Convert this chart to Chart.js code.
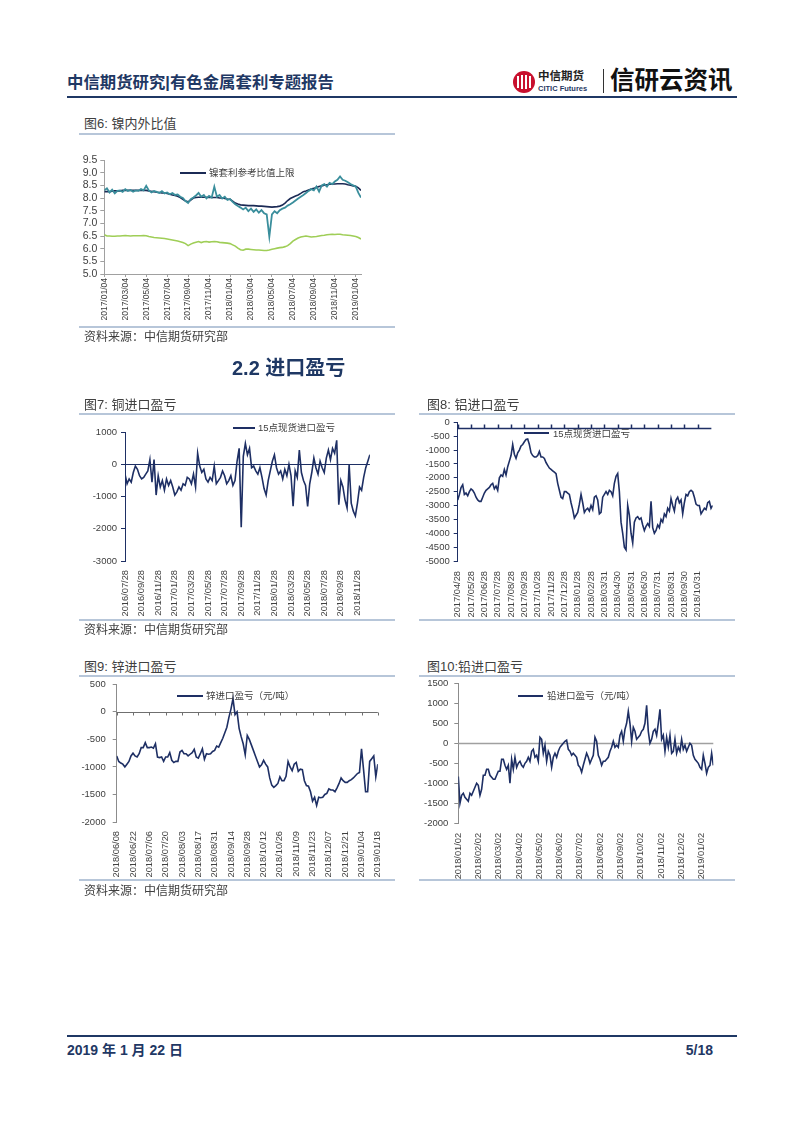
<!DOCTYPE html>
<html><head><meta charset="utf-8">
<script src="https://cdn.jsdelivr.net/npm/chart.js@4.4.1/dist/chart.umd.min.js"></script>
<style>
html,body{margin:0;padding:0;background:#fff;}
#page{position:relative;width:802px;height:1133px;overflow:hidden;font-family:"Liberation Sans","Noto Sans CJK SC",sans-serif;color:#404040;}
.t{position:absolute;white-space:nowrap;line-height:1;}
.ln{position:absolute;height:0;}
canvas{position:absolute;}
</style></head>
<body><div id="page">
<!-- header -->
<div class="t" style="left:67px;top:74px;font-size:16.4px;font-weight:700;color:#1f3864;">中信期货研究|有色金属套利专题报告</div>
<div style="position:absolute;left:513px;top:71px;width:22px;height:22px;border-radius:50%;background:#c8102e;"></div>
<div style="position:absolute;left:517px;top:76px;width:2px;height:12px;background:#fff;"></div>
<div style="position:absolute;left:521px;top:75px;width:2px;height:14px;background:#fff;"></div>
<div style="position:absolute;left:525px;top:75px;width:2px;height:14px;background:#fff;"></div>
<div style="position:absolute;left:529px;top:76px;width:2px;height:12px;background:#fff;"></div>
<div class="t" style="left:538px;top:71px;font-size:11.5px;font-weight:700;color:#222;">中信期货</div>
<div class="t" style="left:538px;top:85px;font-size:7.5px;font-weight:700;color:#1f3864;">CITIC Futures</div>
<div style="position:absolute;left:603px;top:69px;width:1px;height:24px;background:#333;"></div>
<div class="t" style="left:610px;top:69px;font-size:24.5px;font-weight:700;color:#111;">信研云资讯</div>
<div class="ln" style="left:67px;top:96px;width:670px;border-top:2px solid #1f3864;"></div>

<!-- chart 6 -->
<div class="t" style="left:84px;top:117px;font-size:13px;">图6: 镍内外比值</div>
<div class="ln" style="left:79px;top:133px;width:316px;border-top:2px solid #b7c6d9;"></div>
<canvas id="c6" width="311" height="190" style="left:70px;top:140px;width:311px;height:190px"></canvas>
<div class="ln" style="left:180px;top:172px;width:26px;border-top:2px solid #1b2a55;"></div>
<div class="t" style="left:209px;top:168px;font-size:9.5px;">镍套利参考比值上限</div>
<div class="ln" style="left:79px;top:326px;width:316px;border-top:2px solid #b7c6d9;"></div>
<div class="t" style="left:84px;top:331px;font-size:12px;">资料来源：中信期货研究部</div>

<div class="t" style="left:232px;top:358px;font-size:20px;font-weight:700;color:#1f3864;">2.2 进口盈亏</div>

<!-- chart 7 / 8 -->
<div class="t" style="left:84px;top:398px;font-size:13px;">图7: 铜进口盈亏</div>
<div class="ln" style="left:79px;top:413px;width:316px;border-top:2px solid #b7c6d9;"></div>
<div class="t" style="left:427px;top:398px;font-size:13px;">图8: 铝进口盈亏</div>
<div class="ln" style="left:419px;top:413px;width:316px;border-top:2px solid #b7c6d9;"></div>
<canvas id="c7" width="310" height="200" style="left:75px;top:420px;width:310px;height:200px"></canvas>
<canvas id="c8" width="320" height="208" style="left:410px;top:412px;width:320px;height:208px"></canvas>
<div class="ln" style="left:233px;top:427px;width:22px;border-top:2px solid #1e2f64;"></div>
<div class="t" style="left:258px;top:423px;font-size:9.5px;">15点现货进口盈亏</div>
<div class="ln" style="left:524px;top:432px;width:25px;border-top:2px solid #1e2f64;"></div>
<div class="t" style="left:553px;top:429px;font-size:9.5px;">15点现货进口盈亏</div>
<div class="ln" style="left:79px;top:619px;width:316px;border-top:2px solid #b7c6d9;"></div>
<div class="ln" style="left:419px;top:619px;width:316px;border-top:2px solid #b7c6d9;"></div>
<div class="t" style="left:84px;top:624px;font-size:12px;">资料来源：中信期货研究部</div>

<!-- chart 9 / 10 -->
<div class="t" style="left:84px;top:660px;font-size:13px;">图9: 锌进口盈亏</div>
<div class="ln" style="left:79px;top:675px;width:316px;border-top:2px solid #b7c6d9;"></div>
<div class="t" style="left:427px;top:660px;font-size:13px;">图10:铅进口盈亏</div>
<div class="ln" style="left:419px;top:675px;width:316px;border-top:2px solid #b7c6d9;"></div>
<canvas id="c9" width="320" height="212" style="left:75px;top:668px;width:320px;height:212px"></canvas>
<canvas id="c10" width="320" height="212" style="left:410px;top:668px;width:320px;height:212px"></canvas>
<div class="ln" style="left:177px;top:695px;width:26px;border-top:2px solid #1e2f64;"></div>
<div class="t" style="left:206px;top:691px;font-size:9.5px;">锌进口盈亏（元/吨）</div>
<div class="ln" style="left:518px;top:695px;width:25px;border-top:2px solid #1e2f64;"></div>
<div class="t" style="left:547px;top:691px;font-size:9.5px;">铅进口盈亏（元/吨）</div>
<div class="ln" style="left:79px;top:879px;width:316px;border-top:2px solid #b7c6d9;"></div>
<div class="ln" style="left:419px;top:879px;width:316px;border-top:2px solid #b7c6d9;"></div>
<div class="t" style="left:84px;top:885px;font-size:12px;">资料来源：中信期货研究部</div>

<!-- footer -->
<div class="ln" style="left:67px;top:1035px;width:670px;border-top:2px solid #1f3864;"></div>
<div class="t" style="left:67px;top:1043px;font-size:14px;font-weight:700;color:#1f3864;">2019 年 1 月 22 日</div>
<div class="t" style="left:682px;top:1043px;font-size:14px;font-weight:700;color:#1f3864;width:31px;text-align:right;">5/18</div>
</div>
<script>
// ---------- data ----------
const nickelTicks = ['2017/01/04','2017/03/04','2017/05/04','2017/07/04','2017/09/04','2017/11/04','2018/01/04','2018/03/04','2018/05/04','2018/07/04','2018/09/04','2018/11/04','2019/01/04'];
const nickelSpan = 12.25;
const nickelRatio = [8.30,8.38,8.22,8.33,8.18,8.28,8.30,8.24,8.35,8.28,
 8.32,8.25,8.30,8.28,8.35,8.30,8.48,8.30,8.22,8.28,
 8.24,8.20,8.27,8.18,8.22,8.15,8.20,8.12,8.14,8.05,
 8.00,7.88,7.80,7.95,8.02,8.10,8.20,8.05,8.12,7.98,
 8.08,8.02,8.45,8.05,8.12,7.98,8.05,7.92,7.96,7.85,
 7.75,7.68,7.62,7.55,7.62,7.48,7.58,7.45,7.55,7.42,
 7.52,7.40,7.35,6.47,7.35,7.48,7.40,7.52,7.58,7.62,
 7.70,7.75,7.82,7.90,7.98,8.05,8.12,8.20,8.28,8.35,
 8.30,8.45,8.25,8.50,8.55,8.45,8.60,8.55,8.65,8.72,
 8.85,8.72,8.68,8.62,8.55,8.50,8.45,8.20,8.02];
const nickelUpper = [8.25,8.25,8.25,8.27,8.28,8.28,8.28,8.30,8.30,8.30,
 8.30,8.30,8.30,8.30,8.30,8.30,8.30,8.28,8.26,8.25,
 8.23,8.22,8.20,8.20,8.18,8.15,8.12,8.10,8.07,8.02,
 7.95,7.88,7.85,7.92,8.00,8.02,8.03,8.03,8.03,8.03,
 8.02,8.02,8.02,8.02,8.00,8.00,7.98,7.96,7.95,7.88,
 7.80,7.76,7.73,7.72,7.71,7.70,7.70,7.70,7.69,7.68,
 7.68,7.67,7.66,7.65,7.64,7.65,7.66,7.68,7.72,7.80,
 7.90,7.98,8.03,8.08,8.12,8.18,8.25,8.28,8.32,8.35,
 8.38,8.42,8.45,8.48,8.50,8.52,8.54,8.55,8.55,8.56,
 8.56,8.56,8.55,8.52,8.50,8.48,8.46,8.40,8.30];
const nickelLower = [6.55,6.50,6.50,6.49,6.49,6.50,6.50,6.51,6.52,6.51,
 6.50,6.51,6.51,6.51,6.51,6.52,6.51,6.48,6.46,6.44,
 6.43,6.42,6.41,6.40,6.38,6.36,6.34,6.32,6.30,6.27,
 6.24,6.20,6.12,6.18,6.22,6.25,6.28,6.24,6.27,6.28,
 6.26,6.27,6.28,6.27,6.25,6.24,6.23,6.22,6.20,6.15,
 6.10,6.02,5.96,5.94,5.98,5.98,5.97,5.96,5.95,5.95,
 5.94,5.93,5.93,5.95,5.98,6.00,6.02,6.04,6.05,6.08,
 6.12,6.20,6.30,6.36,6.42,6.46,6.48,6.50,6.48,6.46,
 6.47,6.48,6.50,6.52,6.53,6.55,6.56,6.57,6.56,6.57,
 6.57,6.55,6.54,6.53,6.52,6.50,6.48,6.44,6.38];

const copperTicks = ['2016/07/28','2016/09/28','2016/11/28','2017/01/28','2017/03/28','2017/05/28','2017/07/28','2017/09/28','2017/11/28','2018/01/28','2018/03/28','2018/05/28','2018/07/28','2018/09/28','2018/11/28'];
const copperSpan = 14.75;
const copperPL = [-300,-600,-450,-550,-250,-50,-150,-350,
 -450,-400,-300,-200,150,-550,150,-950,
 -350,-700,-500,-800,-450,-650,-500,-700,
 -950,-850,-700,-800,-600,-650,-400,-450,
 -600,-300,-700,350,-50,-250,-150,-450,
 -550,-400,-500,-50,-600,-500,-400,-200,
 -350,-600,-500,-350,-650,-500,100,500,
 -1950,250,650,300,500,-100,-50,-200,
 -300,-100,-400,-750,-950,-500,-200,100,
 300,-100,-300,-200,-450,-150,-350,0,
 -350,-1300,-200,-400,450,-250,-500,-650,
 -1300,-600,-250,200,-100,-300,100,-100,
 -250,200,450,150,500,350,750,-1250,
 -500,-700,-1100,-1350,0,-1200,-1450,-1600,
 -1200,-700,-800,-400,-100,100,300];

const aluTicks = ['2017/04/28','2017/05/28','2017/06/28','2017/07/28','2017/08/28','2017/09/28','2017/10/28','2017/11/28','2017/12/28','2018/01/28','2018/02/28','2018/03/31','2018/04/30','2018/05/31','2018/06/30','2018/07/31','2018/08/31','2018/09/30','2018/10/31'];
const aluSpan = 19.125;
const aluPL = [-2800,-2600,-2350,-2250,-2600,-2550,-2650,-2500,-2400,-2450,
 -2550,-2700,-2800,-2850,-2850,-2700,-2550,-2450,-2400,-2350,
 -2250,-2200,-2400,-2300,-2450,-2000,-1900,-1950,-1700,-1900,
 -1600,-1400,-1200,-800,-1150,-1300,-1100,-1000,-850,-800,
 -700,-620,-600,-800,-1100,-1200,-1250,-1250,-1200,-1050,
 -1250,-1250,-1300,-1450,-1550,-1650,-1700,-1750,-1800,-1850,
 -2200,-2450,-2700,-2750,-2500,-2500,-2550,-2600,-2900,-3150,
 -3450,-3350,-3250,-2950,-2600,-2900,-3250,-3150,-3100,-3200,
 -3000,-3150,-2700,-2650,-2800,-3300,-3250,-2700,-2600,-2500,
 -2600,-2450,-2500,-2650,-2200,-1950,-1850,-2500,-3600,-4000,
 -4500,-4600,-3000,-3350,-4000,-4350,-3600,-3450,-3400,-3500,
 -3450,-3700,-3900,-3750,-3650,-3750,-2850,-3800,-4000,-3900,
 -3700,-3800,-3500,-3600,-3300,-3400,-3100,-3200,-2750,-3000,
 -3200,-2800,-2700,-2900,-2800,-3300,-2900,-2600,-2650,-2500,
 -2450,-2500,-2700,-2950,-3000,-3000,-3300,-3200,-3100,-3150,
 -2900,-2850,-3100,-3000];

const zincTicks = ['2018/06/08','2018/06/22','2018/07/06','2018/07/20','2018/08/03','2018/08/17','2018/08/31','2018/09/14','2018/09/28','2018/10/12','2018/10/26','2018/11/09','2018/11/23','2018/12/07','2018/12/21','2019/01/04','2019/01/18'];
const zincSpan = 16;
const zincPL = [-800,-900,-930,-950,-1000,-950,-900,-800,-750,-800,
 -820,-760,-650,-650,-560,-650,-650,-640,-660,-580,
 -820,-830,-820,-900,-820,-820,-740,-880,-920,-900,
 -900,-730,-700,-760,-760,-800,-770,-740,-680,-820,
 -840,-760,-670,-860,-760,-770,-760,-720,-700,-620,
 -640,-560,-480,-380,-280,-100,50,240,-50,0,
 -300,-450,-580,-780,-430,-500,-600,-700,-800,-900,
 -1000,-960,-880,-950,-1000,-1200,-1330,-1370,-1340,-1300,
 -1180,-1250,-1250,-1170,-900,-1000,-1070,-950,-920,-1080,
 -1040,-1050,-1250,-1340,-1350,-1450,-1620,-1550,-1700,-1550,
 -1560,-1550,-1500,-1480,-1400,-1420,-1420,-1450,-1380,-1300,
 -1200,-1250,-1280,-1280,-1250,-1230,-1200,-1160,-1120,-1100,
 -670,-1050,-1450,-1450,-900,-850,-800,-1180,-950];

const leadTicks = ['2018/01/02','2018/02/02','2018/03/02','2018/04/02','2018/05/02','2018/06/02','2018/07/02','2018/08/02','2018/09/02','2018/10/02','2018/11/02','2018/12/02','2019/01/02'];
const leadSpan = 12.58;
const leadPL = [-830,-1500,-1300,-1250,-1350,-1400,-1450,-1250,-1300,-1200,
 -1100,-1000,-1050,-1300,-1150,-800,-800,-650,-650,-800,
 -850,-900,-900,-800,-700,-700,-400,-400,-550,-650,
 -550,-1000,-400,-650,-350,-600,-500,-450,-550,-600,
 -500,-450,-350,-450,-200,-150,-350,-300,-450,150,
 100,-250,-50,-450,-200,-300,-600,-350,-250,-350,
 -200,-100,-50,0,50,80,-150,-200,-300,-250,
 -300,-350,-550,-600,-720,-550,-400,-250,-350,-500,
 -400,-300,150,50,-300,-400,-550,-450,-450,-400,
 -350,-200,-100,50,-100,-50,-100,200,300,50,
 350,500,800,500,50,400,300,100,150,200,
 300,350,500,950,300,0,100,300,350,200,
 500,850,100,200,-200,150,-100,200,-250,-200,
 100,-250,-100,-200,100,-150,-50,-200,-100,0,
 -50,-300,-400,-450,-500,-600,-650,-300,-500,-750,
 -600,-550,-250,-550];

// ---------- drawing ----------
const FONT = '"Liberation Sans", Arial, sans-serif';
const NAVY = '#1e2f64';

const refLine = {
  id: 'refLine',
  beforeDatasetsDraw(chart, args, o) {
    if (!o || o.value === undefined) return;
    const {ctx, chartArea, scales: {x, y}} = chart;
    const py = Math.round(y.getPixelForValue(o.value)) + 0.5;
    ctx.save();
    ctx.strokeStyle = o.color; ctx.lineWidth = o.width || 1;
    ctx.beginPath();
    ctx.moveTo(chartArea.left, py); ctx.lineTo(x.getPixelForValue(o.end), py);
    if (o.tick) {
      x.ticks.forEach(t => { const px = Math.round(x.getPixelForValue(t.value)) + 0.5; ctx.moveTo(px, py); ctx.lineTo(px, py + o.tick); });
    }
    ctx.stroke(); ctx.restore();
  }
};

function makeChart(id, c) {
  const datasets = c.series.map(s => ({
    data: s.values.map((v, i) => ({x: i * c.span / (s.values.length - 1), y: v})),
    borderColor: s.color, borderWidth: s.width || 1.6, pointRadius: 0, tension: 0, fill: false
  }));
  new Chart(document.getElementById(id), {
    type: 'line',
    data: {datasets},
    options: {
      responsive: false, animation: false, devicePixelRatio: 1,
      layout: {padding: {top: c.padTop, right: c.padRight, left: 0, bottom: 0}},
      plugins: {legend: {display: false}, tooltip: {enabled: false}, refLine: c.ref || {}},
      scales: {
        x: {
          type: 'linear', min: 0, max: c.span,
          afterBuildTicks: ax => { ax.ticks = c.ticks.map((_, i) => ({value: i})); },
          afterFit: ax => { ax.height = c.xH; },
          ticks: {autoSkip: false, maxRotation: 90, minRotation: 90, padding: c.xPad, color: '#404040',
                  font: {family: FONT, size: c.xFont}, callback: (v, i) => c.ticks[i]},
          grid: {display: !!c.xAxis, drawOnChartArea: false, tickLength: 3, color: c.xAxis || '#999'},
          border: {display: !!c.xAxis, color: c.xAxis || '#999'}
        },
        y: {
          min: c.yMin, max: c.yMax,
          afterFit: ax => { ax.width = c.yW; },
          ticks: {autoSkip: false, stepSize: c.yStep, padding: c.yPad, color: '#404040', font: {family: FONT, size: c.yFont},
                  callback: c.yFmt || (v => String(v))},
          grid: {display: true, drawOnChartArea: false, tickLength: 4, color: c.yAxis},
          border: {display: true, color: c.yAxis}
        }
      }
    },
    plugins: [refLine]
  });
}

makeChart('c6', {
  ticks: nickelTicks, span: nickelSpan,
  series: [
    {values: nickelLower, color: '#9fce57', width: 1.6},
    {values: nickelRatio, color: '#3a8e9c', width: 1.8},
    {values: nickelUpper, color: '#1b2a55', width: 1.6}
  ],
  padTop: 20, padRight: 20, xH: 56, yW: 34.3, xPad: 1, xFont: 8.5, yFont: 10.5, yPad: 3,
  yMin: 5, yMax: 9.5, yStep: 0.5, yFmt: v => v.toFixed(1), xAxis: '#a0a0a0', yAxis: '#a0a0a0'
});
makeChart('c7', {
  ticks: copperTicks, span: copperSpan,
  series: [{values: copperPL, color: NAVY}],
  padTop: 12.3, padRight: 15.1, xH: 59, yW: 50, xPad: 6, xFont: 9.3, yFont: 9.5, yPad: 4,
  yMin: -3000, yMax: 1000, yStep: 1000, yAxis: NAVY,
  ref: {value: 0, end: copperSpan, color: NAVY, width: 1}
});
makeChart('c8', {
  ticks: aluTicks, span: aluSpan,
  series: [{values: aluPL, color: NAVY}],
  padTop: 10.3, padRight: 17.3, xH: 59, yW: 47.7, xPad: 7, xFont: 9.3, yFont: 9.5, yPad: 4,
  yMin: -5000, yMax: 0, yStep: 500, yAxis: NAVY,
  ref: {value: -200, end: aluSpan - 0.1, color: NAVY, width: 1.5, tick: -4}
});
makeChart('c9', {
  ticks: zincTicks, span: zincSpan,
  series: [{values: zincPL, color: NAVY}],
  padTop: 16.3, padRight: 14.8, xH: 58, yW: 41.7, xPad: 6, xFont: 9.3, yFont: 9.5, yPad: 7,
  yMin: -2000, yMax: 500, yStep: 500, yAxis: '#8c8c8c',
  ref: {value: 0, end: zincSpan, color: '#6f6f6f', width: 1, tick: 3}
});
makeChart('c10', {
  ticks: leadTicks, span: leadSpan,
  series: [{values: leadPL, color: NAVY}],
  padTop: 15.3, padRight: 16.7, xH: 56.7, yW: 48.3, xPad: 6.5, xFont: 9.3, yFont: 9.5, yPad: 6,
  yMin: -2000, yMax: 1500, yStep: 500, yAxis: '#8c8c8c',
  ref: {value: 0, end: leadSpan, color: '#a0a0a0', width: 1.5}
});
</script>
</body></html>
